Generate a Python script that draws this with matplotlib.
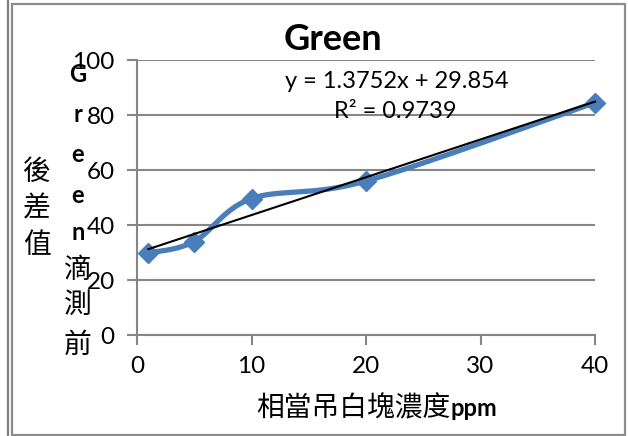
import numpy as np
import matplotlib
matplotlib.use("Agg")
import matplotlib.pyplot as plt
from matplotlib.lines import Line2D
from matplotlib.patches import Rectangle

# Measured data
conc = [1, 5, 10, 20, 40]                 # ppm
diff = [29.8, 34.0, 49.6, 56.0, 84.5]     # Green difference
slope, intercept, r2 = 1.3752, 29.854, 0.9739

x_ticks = [0, 10, 20, 30, 40]
y_ticks = [0, 20, 40, 60, 80, 100]

title = "Green"
xlabel_cjk = "相當吊白塊濃度"
xlabel_unit = "ppm"
ylabel_col1 = ["G", "r", "e", "e", "n", "滴", "測", "前"]
ylabel_col2 = ["後", "差", "值"]

W, H = 628, 436
LATIN = "Lato"
CJK = "Noto Sans CJK TC"
BLUE = "#4A7EBB"
GRID = "#868686"


def fx(px):
    return px / W


def fy(py):
    return 1 - py / H


fig = plt.figure(figsize=(W / 100, H / 100), dpi=100)
fig.patch.set_facecolor("white")

# frames
fig.add_artist(Line2D([fx(7.5), fx(7.5)], [0, 1], color="#7f7f7f", lw=1.6))
fig.add_artist(Rectangle((fx(12), fy(434.5)), fx(624.5) - fx(12), fy(4.5) - fy(434.5),
                         fill=False, edgecolor="#8c8c8c", lw=1.6))

ax = fig.add_axes([fx(137), fy(335), fx(595) - fx(137), fy(60) - fy(335)])
ax.set_xlim(0, 40)
ax.set_ylim(0, 100)
ax.set_xticks(x_ticks)
ax.set_yticks(y_ticks)
ax.set_xticklabels([str(v) for v in x_ticks], fontfamily=LATIN, fontsize=17.5)
ax.set_yticklabels([str(v) for v in y_ticks], fontfamily=LATIN, fontsize=17.5)
ax.tick_params(axis="y", direction="out", length=7, width=1.5, color=GRID, pad=9)
ax.tick_params(axis="x", direction="out", length=7, width=1.5, color=GRID, pad=8)
for s in ["top", "right"]:
    ax.spines[s].set_visible(False)
for s in ["left", "bottom"]:
    ax.spines[s].set_color(GRID)
    ax.spines[s].set_linewidth(1.5)
ax.yaxis.grid(True, color=GRID, lw=1.5)
ax.set_axisbelow(True)

# smoothed series (Catmull-Rom style Bezier in display space)
pts = ax.transData.transform(np.column_stack([conc, diff]))
n = len(pts)
curve = []
t = np.linspace(0, 1, 40)
for i in range(n - 1):
    p0 = pts[i - 1] if i > 0 else pts[i]
    p1 = pts[i]
    p2 = pts[i + 1]
    p3 = pts[i + 2] if i + 2 < n else pts[i + 1]
    c1 = p1 + (p2 - p0) / 6
    c2 = p2 - (p3 - p1) / 6
    seg = ((1 - t) ** 3)[:, None] * p1 + (3 * (1 - t) ** 2 * t)[:, None] * c1 \
        + (3 * (1 - t) * t ** 2)[:, None] * c2 + (t ** 3)[:, None] * p2
    curve.append(seg)
curve = ax.transData.inverted().transform(np.vstack(curve))
ax.plot(curve[:, 0], curve[:, 1], color=BLUE, lw=3.8, solid_capstyle="round",
        zorder=3, clip_on=False)
ax.plot(conc, diff, ls="none", marker="D", ms=10.5, color=BLUE, zorder=4, clip_on=False)

# linear trendline
xt = np.array([conc[0], conc[-1]])
ax.plot(xt, slope * xt + intercept, color="black", lw=1.5, zorder=5, clip_on=False)

fig.text(fx(397), fy(82), f"y = {slope}x + {intercept}", ha="center", va="center",
         fontfamily=LATIN, fontsize=17)
fig.text(fx(395), fy(112), f"R² = {r2}", ha="center", va="center",
         fontfamily=LATIN, fontsize=17)

# title
fig.text(fx(333), fy(50), title, ha="center", va="baseline",
         fontfamily=LATIN, fontweight="bold", fontsize=26)

# x label
fig.text(fx(450), fy(408), xlabel_cjk, ha="right", va="center", fontfamily=CJK, fontsize=20)
fig.text(fx(451), fy(416), xlabel_unit, ha="left", va="baseline",
         fontfamily=LATIN, fontweight="bold", fontsize=17)

# stacked y label
col1_y = [75, 115, 155, 195, 233, 270, 305, 345]
for ch, yy in zip(ylabel_col1, col1_y):
    if ch.isascii():
        fig.text(fx(78), fy(yy), ch, ha="center", va="center",
                 fontfamily=LATIN, fontweight="bold", fontsize=17)
    else:
        fig.text(fx(78), fy(yy), ch, ha="center", va="center", fontfamily=CJK, fontsize=20)
for ch, yy in zip(ylabel_col2, [172, 208, 245]):
    fig.text(fx(37), fy(yy), ch, ha="center", va="center", fontfamily=CJK, fontsize=20)

fig.savefig("out.png", dpi=100)
